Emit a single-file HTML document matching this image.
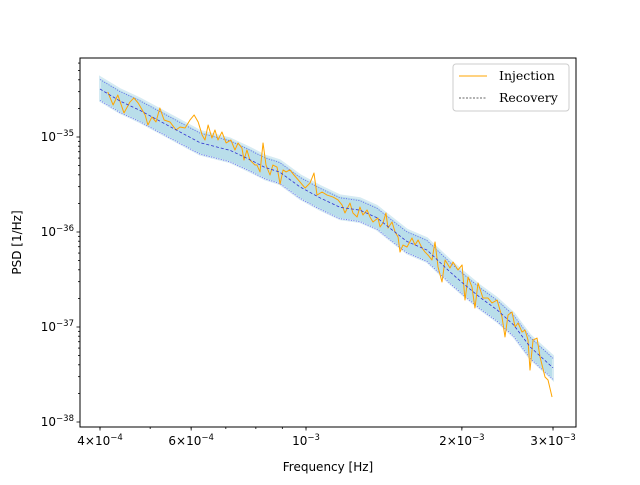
<!DOCTYPE html>
<html><head><meta charset="utf-8"><style>
body{margin:0;background:#fff;}
</style></head><body>
<svg id="chart" width="640" height="480" viewBox="0 0 640 480" xmlns="http://www.w3.org/2000/svg" font-family="DejaVu Sans, Liberation Sans, sans-serif">
<rect width="640" height="480" fill="#fff"/>
<g id="plot"></g>
<g id="axes"></g>
</svg>
<script>
// ---- data (frequency in units of 1e-4 Hz, PSD as log10 value) ----
const injFreq = [4.14,4.24,4.33,4.45,4.57,4.65,4.74,4.89,4.95,5.04,5.13,5.22,5.32,5.46,5.61,5.71,5.84,5.97,6.08,6.19,6.30,6.38,6.47,6.58,6.67,6.76,6.88,7.01,7.16,7.29,7.39,7.52,7.59,7.69,7.79,7.97,8.04,8.15,8.26,8.37,8.52,8.63,8.79,8.91,9.03,9.15,9.31,9.48,
9.74,9.96,10.18,10.36,10.50,10.74,10.98,11.28,11.53,11.74,11.89,12.16,12.32,12.55,12.71,12.88,13.12,13.29,13.47,13.77,13.90,14.08,14.27,14.40,14.66,14.86,15.06,15.19,15.39,15.67,16.02,16.24,16.46,16.75,16.98,17.20,17.51,17.75,17.99,18.31,18.56,18.97,19.23,19.66,20.02,20.28,20.56,20.92,21.20,21.49,21.97,22.47,22.87,23.39,23.91,24.23,24.56,25.00,25.34,25.68,26.14,26.49,26.84,27.08,27.45,27.94,28.32,28.95,29.34,29.87];
const injLogPSD = [-34.526,-34.663,-34.558,-34.747,-34.632,-34.589,-34.642,-34.768,-34.874,-34.789,-34.842,-34.695,-34.821,-34.842,-34.926,-34.895,-34.905,-34.821,-34.768,-34.842,-34.979,-35.032,-34.874,-35.011,-34.926,-35.032,-34.947,-35.063,-35.032,-35.137,-35.063,-35.116,-35.242,-35.137,-35.242,-35.295,-35.295,-35.368,-35.063,-35.295,-35.4,-35.295,-35.316,-35.495,-35.347,-35.368,-35.347,-35.4,
-35.474,-35.537,-35.484,-35.379,-35.611,-35.579,-35.611,-35.632,-35.663,-35.716,-35.8,-35.695,-35.8,-35.842,-35.737,-35.821,-35.768,-35.842,-35.895,-35.853,-35.947,-35.905,-35.8,-35.958,-35.895,-36.0,-36.053,-36.211,-36.137,-36.158,-36.063,-36.137,-36.084,-36.168,-36.211,-36.242,-36.295,-36.105,-36.368,-36.526,-36.295,-36.379,-36.316,-36.4,-36.347,-36.716,-36.474,-36.579,-36.8,-36.537,-36.695,-36.695,-36.747,-36.716,-36.895,-37.105,-36.874,-36.842,-37.0,-36.958,-37.053,-37.032,-37.137,-37.453,-37.137,-37.116,-37.316,-37.526,-37.558,-37.737];
const recFreq = [4.0,4.37,4.78,5.46,6.24,7.13,7.8,8.33,8.9,9.74,10.64,11.63,12.71,13.71,14.53,15.67,17.13,18.97,20.1,21.7,23.4,25.2,27.1,30.0];
const recLogPSD = [-34.495,-34.621,-34.72,-34.89,-35.06,-35.14,-35.24,-35.32,-35.37,-35.526,-35.64,-35.74,-35.77,-35.85,-35.96,-36.1,-36.19,-36.42,-36.54,-36.69,-36.82,-36.98,-37.21,-37.43];
const bandHalfWidth = [0.125];
const quantHalfWidth = [0.1];
const xTickVals = [4e-4,6e-4,1e-3,2e-3,3e-3];
const xTickMant = ["4","6","","2","3"];
const yTickExps = [-35,-36,-37,-38];

// ---- axis functions ----
const L=80,R=576,T=58,B=427;
const X0=Math.log10(4e-4), PXD=517.7, XOFF=100;
function xs(f){return XOFF+PXD*(Math.log10(f)-X0);}
const Y0=-35, PYD=95, YOFF=137;
function ys(lg){return YOFF-PYD*(lg-Y0);}
const NS="http://www.w3.org/2000/svg";
function mk(tag,attrs,parent){const e=document.createElementNS(NS,tag);for(const k in attrs)e.setAttribute(k,attrs[k]);parent.appendChild(e);return e;}
const plot=document.getElementById('plot'), axes=document.getElementById('axes');

let up=[],dn=[],qu=[],qd=[],md=[];
recFreq.forEach((f,i)=>{const x=xs(f*1e-4);up.push(x+','+ys(recLogPSD[i]+bandHalfWidth[0]));dn.unshift(x+','+ys(recLogPSD[i]-bandHalfWidth[0]));
qu.push(x+','+ys(recLogPSD[i]+quantHalfWidth[0]));qd.push(x+','+ys(recLogPSD[i]-quantHalfWidth[0]-0.02));md.push(x+','+ys(recLogPSD[i]));});
const band=mk('polygon',{points:up.concat(dn).join(' '),fill:'#add8e6','fill-opacity':'0.85',stroke:'#d6ebf3','stroke-width':'2'},plot);


const q1=mk('polyline',{points:qu.join(' '),fill:'none',stroke:'#5a5af0','stroke-width':'0.8','stroke-dasharray':'1,1.5'},plot);


const q2=mk('polyline',{points:qd.join(' '),fill:'none',stroke:'#5a5af0','stroke-width':'0.8','stroke-dasharray':'1,1.5'},plot);


const inj=mk('polyline',{points:injFreq.map((f,i)=>xs(f*1e-4)+','+ys(injLogPSD[i])).join(' '),fill:'none',stroke:'#ffa500','stroke-width':'1','stroke-linejoin':'round'},plot);


const med=mk('polyline',{points:md.join(' '),fill:'none',stroke:'#3030d0','stroke-width':'0.8','stroke-dasharray':'3,2'},plot);



const fr=mk('rect',{x:L,y:T,width:R-L,height:B-T,fill:'none',stroke:'#000','stroke-width':'1'},axes);


for(let d=-4;d<=-3;d++)for(let m=1;m<10;m++){const v=m*Math.pow(10,d);const x=xs(v);if(x<L||x>R)continue;mk('line',{x1:x,x2:x,y1:B,y2:B+2,stroke:'#000','stroke-width':'0.8'},axes);}
xTickVals.forEach((v,i)=>{const x=xs(v);mk('line',{x1:x,x2:x,y1:B,y2:B+3.5,stroke:'#000','stroke-width':'0.8'},axes);
const t=mk('text',{x:x,y:B+18,'font-size':'12','text-anchor':'middle'},axes);


const e=Math.floor(Math.log10(v)+1e-9);
t.innerHTML=(xTickMant[i]?xTickMant[i]+'×':'')+'10<tspan dy="-5" font-size="8.5">−'+(-e)+'</tspan>';});
for(let d=-38;d<=-35;d++)for(let m=1;m<10;m++){const lg=d+Math.log10(m);const y=ys(lg);if(y<T||y>B)continue;mk('line',{x1:L-(m===1?3.5:2),x2:L,y1:y,y2:y,stroke:'#000','stroke-width':'0.8'},axes);}
yTickExps.forEach(e=>{const y=ys(e);const t=mk('text',{x:L-6,y:y+4,'font-size':'12','text-anchor':'end'},axes);


t.innerHTML='10<tspan dy="-5" font-size="8.5">−'+(-e)+'</tspan>';});
const xl=mk('text',{x:(L+R)/2,y:471,'font-size':'12','text-anchor':'middle'},axes);xl.textContent='Frequency [Hz]';


const yl=mk('text',{x:21,y:(T+B)/2,'font-size':'12','text-anchor':'middle',transform:'rotate(-90 21 '+((T+B)/2)+')'},axes);yl.textContent='PSD [1/Hz]';


const lg=mk('g',{},axes);


mk('rect',{x:453,y:64,width:116,height:47,rx:3,fill:'#fff','fill-opacity':'0.8',stroke:'#ccc'},lg);
const l1=mk('line',{x1:459,x2:487,y1:76,y2:76,stroke:'#ffa500','stroke-width':'1'},lg);


const t1=mk('text',{x:499,y:80,'font-size':'12.5','font-family':'DejaVu Serif, Liberation Serif, serif'},lg);t1.textContent='Injection';


const l2=mk('line',{x1:459,x2:487,y1:98,y2:98,stroke:'#333','stroke-width':'0.8','stroke-dasharray':'2,1.5'},lg);


const t2=mk('text',{x:499,y:102,'font-size':'12.5','font-family':'DejaVu Serif, Liberation Serif, serif'},lg);t2.textContent='Recovery';


</script>
</body></html>
